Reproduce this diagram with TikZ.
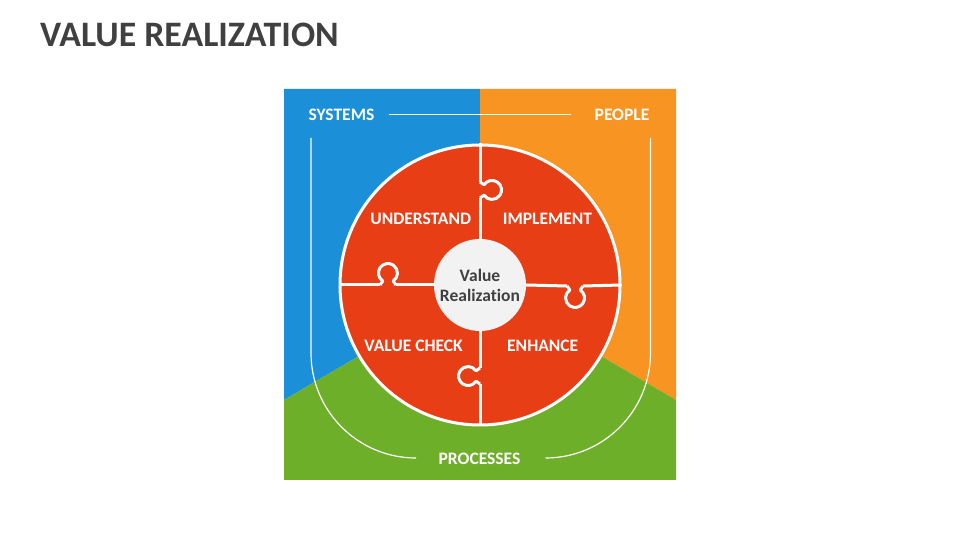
\documentclass[tikz,border=0pt]{standalone}
\usepackage{fontspec}
\setmainfont{Carlito}[Ligatures=NoCommon]
\usetikzlibrary{positioning}
\definecolor{sysblue}{RGB}{27,143,215}
\definecolor{pplorange}{RGB}{248,148,33}
\definecolor{procgreen}{RGB}{110,175,42}
\definecolor{wheelred}{RGB}{232,62,22}
\definecolor{hubgray}{RGB}{242,242,242}
\definecolor{ink}{RGB}{64,64,64}
\newcommand{\knob}[3]{%
  \draw[seam,shift={(#1,#2)},rotate=#3] (0,8) -- (4,5.2)
    arc[start angle=147,end angle=-147,radius=9.5] -- (0,-8);}

\begin{document}
\begin{tikzpicture}[
  x=1pt,y=1pt,
  every node/.style={font=\fontsize{17.5}{20}\selectfont\bfseries},
  side/.style={text=white,inner sep=2pt},
  piece/.style={text=white,inner sep=2pt},
  seam/.style={draw=white,line width=3pt,line join=round},
  frame/.style={draw=white,line width=1.2pt}
]
\useasboundingbox (0,0) rectangle (960,540);
\fill[white] (0,0) rectangle (960,540);
\node[anchor=base west,inner sep=0pt,text=ink,font=\fontsize{35.8}{42}\selectfont\bfseries] (title) at (40,493) {VALUE REALIZATION};
\fill[sysblue] (284,451) -- (480,451) -- (480,255) -- (284,140) -- cycle;
\fill[pplorange] (480,451) -- (676,451) -- (676,140) -- (480,255) -- cycle;
\fill[procgreen] (284,140) -- (480,255) -- (676,140) -- (676,60) -- (284,60) -- cycle;
\node[side] (systems) at (341.5,425.5) {SYSTEMS};
\node[side] (people) at (622,425.5) {PEOPLE};
\node[side] (processes) at (479.5,81.5) {PROCESSES};
\draw[frame,shorten <=12pt,shorten >=21pt] (systems) -- (people);
\draw[frame] (311,402) -- (311,187) arc[start angle=180,end angle=270,radius=105];
\draw[frame] (650.5,402) -- (650.5,187) arc[start angle=0,end angle=-90,radius=105];
\node[circle,fill=wheelred,draw=white,line width=3pt,minimum size=280pt] (wheel) at (480,255) {};
\node[circle,fill=hubgray,inner sep=0pt,minimum size=92pt,align=center,text=ink] (hub) at (480,255) {Value\\Realization};
\draw[seam] (wheel.north) -- (480,358);
\knob{480}{350}{0}
\draw[seam] (480,342) -- (hub.north);
\draw[seam] (wheel.west) -- (380,255);
\knob{388}{255}{90}
\draw[seam] (396,255) -- (hub.west);
\draw[seam] (hub.east) -- (567,254);
\knob{575}{254}{-90}
\draw[seam] (583,254) -- (wheel.east);
\draw[seam] (hub.south) -- (480,172);
\knob{480}{164}{180}
\draw[seam] (480,156) -- (wheel.south);
\node[piece] (understand) at (420.7,321) {UNDERSTAND};
\node[piece] (implement) at (547.5,321) {IMPLEMENT};
\node[piece] (valuecheck) at (413.5,194) {VALUE CHECK};
\node[piece] (enhance) at (542.7,194) {ENHANCE};
\end{tikzpicture}
\end{document}
